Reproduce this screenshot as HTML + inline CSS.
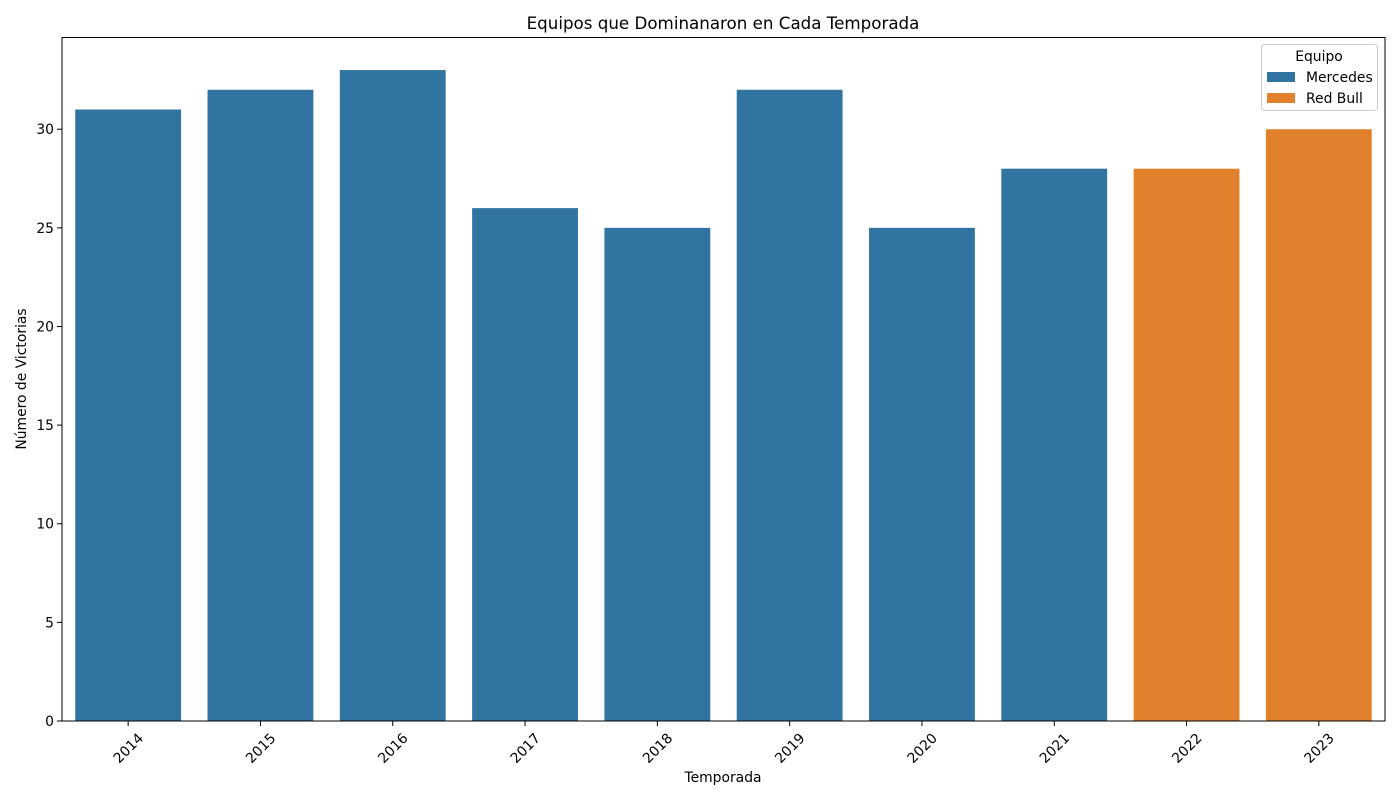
<!DOCTYPE html>
<html><head><meta charset="utf-8"><style>
body{margin:0;background:#fff}
text{font-family:"DejaVu Sans","Liberation Sans",sans-serif;fill:#000}
</style></head><body>
<svg id="chart" width="1400" height="800" xmlns="http://www.w3.org/2000/svg">
<text x="723" y="29" font-size="16.7" text-anchor="middle">Equipos que Dominanaron en Cada Temporada</text>
<g id="plot"></g>
<rect x="62" y="37.5" width="1323" height="683.5" fill="none" stroke="#000" stroke-width="1"/>
<text x="723" y="782" font-size="13.9" text-anchor="middle">Temporada</text>
<text transform="translate(26,379) rotate(-90)" font-size="13.9" text-anchor="middle">Número de Victorias</text>
<g>
<rect x="1261.5" y="44.5" width="116" height="66" rx="3" fill="#fff" fill-opacity="0.8" stroke="#ccc"/>
<text x="1319" y="61" font-size="13.9" text-anchor="middle">Equipo</text>
<rect x="1267" y="72" width="28" height="10" fill="#3274a1"/>
<text x="1306" y="82" font-size="13.9">Mercedes</text>
<rect x="1267" y="93" width="28" height="10" fill="#e1812c"/>
<text x="1306" y="103" font-size="13.9">Red Bull</text>
</g>
</svg>
<script>
const seasons=["2014","2015","2016","2017","2018","2019","2020","2021","2022","2023"];
const wins=[31,32,33,26,25,32,25,28,28,30];
const teams=["Mercedes","Mercedes","Mercedes","Mercedes","Mercedes","Mercedes","Mercedes","Mercedes","Red Bull","Red Bull"];
const yTicks=[0,5,10,15,20,25,30];
const colors={"Mercedes":"#3274a1","Red Bull":"#e1812c"};
const L=62,R=1385,B=721,T=37.5;
const yMax=Math.max(...wins)*1.05;
const y=v=>B-(B-T)*v/yMax;
const band=(R-L)/seasons.length;
const x=i=>L+band*i+band/2;
const g=document.getElementById('plot');
const NS="http://www.w3.org/2000/svg";
function mk(t,a){const e=document.createElementNS(NS,t);for(const k in a)e.setAttribute(k,a[k]);g.appendChild(e);return e;}
seasons.forEach((s,i)=>{
  const r=mk('rect',{x:x(i)-band*0.4,y:y(wins[i]),width:band*0.8,height:B-y(wins[i]),fill:colors[teams[i]]});
  
  
  const tk=mk('line',{x1:x(i),x2:x(i),y1:B,y2:B+5,stroke:'#000'});
  
  
  const cx=x(i),cy=B+27;
  const t=mk('text',{x:cx,y:cy+5,'font-size':13.9,'text-anchor':'middle',transform:`rotate(-45 ${cx} ${cy})`});
  t.textContent=s;
  
  
});
yTicks.forEach(v=>{
  const tk=mk('line',{x1:L-5,x2:L,y1:y(v),y2:y(v),stroke:'#000'});
  
  
  const t=mk('text',{x:L-8,y:y(v)+5,'font-size':13.9,'text-anchor':'end'});
  t.textContent=v;
  
  
});
</script>
</body></html>
